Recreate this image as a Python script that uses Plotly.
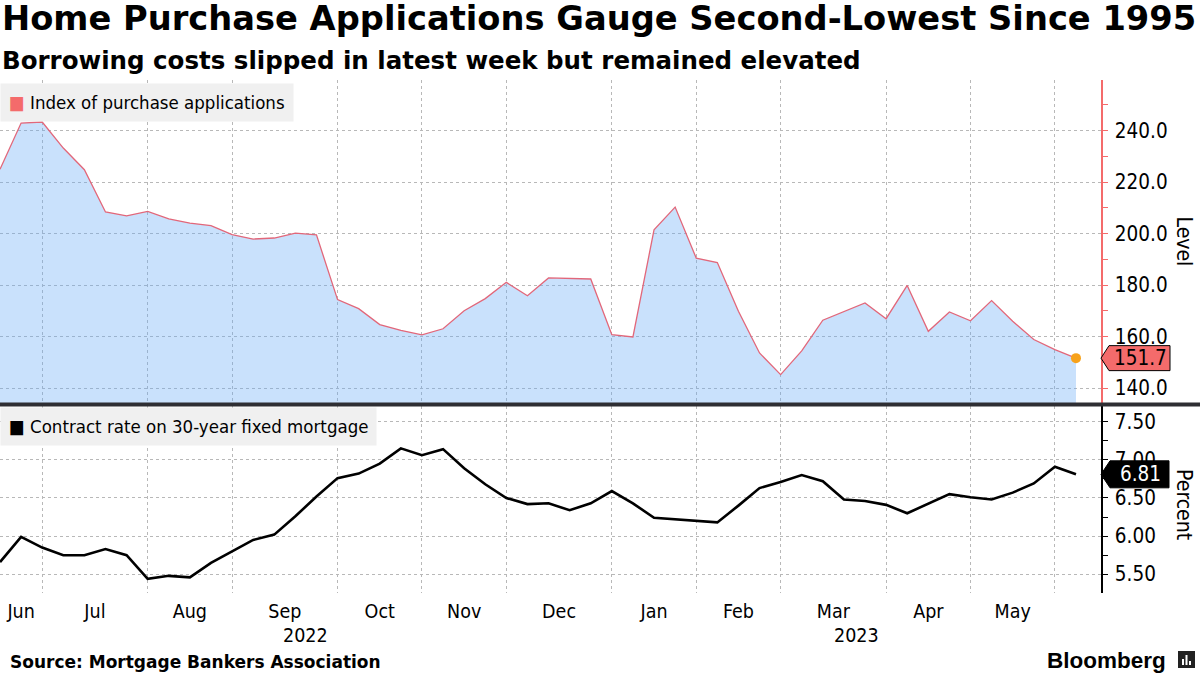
import pandas as pd
import plotly.graph_objects as go

# ---------------- data ----------------
dates = pd.date_range("2022-06-10", periods=52, freq="7D")

purchase_index = [225.0, 242.9, 243.3, 233.2, 224.8, 208.4, 206.9, 208.6, 205.7, 204.1,
                  203.1, 199.6, 197.9, 198.3, 200.2, 199.5, 174.4, 170.9, 164.7, 162.5,
                  160.7, 163.1, 170.1, 174.8, 181.1, 175.9, 182.8, 182.5, 182.4, 160.8,
                  159.9, 201.5, 210.3, 190.5, 188.8, 169.9, 153.7, 145.3, 154.5, 166.4,
                  169.7, 173.1, 167.0, 179.9, 162.1, 169.6, 166.2, 174.0, 166.0, 158.9,
                  155.0, 151.7]

mortgage_rate = [5.66, 5.99, 5.85, 5.75, 5.75, 5.83, 5.75, 5.44, 5.48, 5.46,
                 5.65, 5.80, 5.95, 6.02, 6.26, 6.52, 6.76, 6.82, 6.95, 7.15,
                 7.06, 7.14, 6.89, 6.68, 6.50, 6.42, 6.43, 6.34, 6.43, 6.59,
                 6.43, 6.24, 6.22, 6.20, 6.18, 6.40, 6.63, 6.71, 6.80, 6.72,
                 6.48, 6.46, 6.41, 6.30, 6.43, 6.55, 6.51, 6.48, 6.57, 6.69,
                 6.91, 6.81]

month_labels = ["Jun", "Jul", "Aug", "Sep", "Oct", "Nov", "Dec",
                "Jan", "Feb", "Mar", "Apr", "May"]
year_labels = ["2022", "2023"]

# ---------------- derived axis positions ----------------
x_end = dates[-1] + pd.Timedelta(hours=8.3 * 24)
grid_dates = [d for k, d in enumerate(dates[:-1]) if dates[k + 1].month != d.month]
bounds = [dates[0]] + grid_dates
mid_dates = [bounds[k] + (bounds[k + 1] - bounds[k]) / 2 for k in range(len(bounds) - 1)]
year_split = [d for d in grid_dates if d.month == 12][0]
year_mids = [dates[0] + (year_split - dates[0]) / 2, year_split + (x_end - year_split) / 2]

FONT = "DejaVu Sans Condensed, DejaVu Sans, sans-serif"
FONT_WIDE = "DejaVu Sans, sans-serif"
RED_LINE = "#e2677a"
RED_BOX = "#f46b6b"
GRID = "#b8b8b8"

fig = go.Figure()
fig.add_trace(go.Scatter(
    x=dates, y=purchase_index, mode="lines", xaxis="x", yaxis="y",
    line=dict(color=RED_LINE, width=1.3), fill="tozeroy",
    fillcolor="rgba(100,170,245,0.35)", showlegend=False, hoverinfo="skip"))
fig.add_trace(go.Scatter(
    x=[dates[-1]], y=[purchase_index[-1]], mode="markers", xaxis="x", yaxis="y",
    marker=dict(color="#f7a21b", size=10), showlegend=False, hoverinfo="skip"))
fig.add_trace(go.Scatter(
    x=dates, y=mortgage_rate, mode="lines", xaxis="x2", yaxis="y2",
    line=dict(color="#000000", width=2.6), showlegend=False, hoverinfo="skip"))

minor_x = dict(tickmode="array", tickvals=grid_dates, showgrid=True,
               gridcolor=GRID, griddash="dot", gridwidth=1, ticks="")

fig.update_layout(
    width=1200, height=675,
    margin=dict(l=0, r=99, t=80, b=82),
    paper_bgcolor="white", plot_bgcolor="white",
    font=dict(family=FONT, size=19, color="#000"),
    xaxis=dict(domain=[0, 1], anchor="y", range=[dates[0], x_end], type="date",
               showticklabels=False, showgrid=False, ticks="", minor=minor_x,
               zeroline=False, showline=False),
    xaxis2=dict(domain=[0, 1], anchor="y2", matches="x", type="date",
                tickmode="array", tickvals=mid_dates, ticktext=month_labels,
                showgrid=False, ticks="", minor=minor_x, zeroline=False, showline=False,
                tickfont=dict(size=19.5, family=FONT), ticklabelstandoff=4),
    yaxis=dict(domain=[0.3704, 1], anchor="x", side="right", range=[134.3, 259.6],
               dtick=20, tick0=0, tickformat=".1f", showline=True, linecolor=RED_BOX,
               linewidth=1.5, ticks="outside", ticklen=5, tickcolor=RED_BOX,
               showgrid=True, gridcolor=GRID, griddash="dot", zeroline=False,
               tickfont=dict(size=20.5, family=FONT), ticklabelstandoff=3,
               minor=dict(dtick=10, tick0=0, ticks="outside", ticklen=5,
                          tickcolor=RED_BOX, showgrid=False)),
    yaxis2=dict(domain=[0, 0.3645], anchor="x2", side="right", range=[5.255, 7.705],
                dtick=0.5, tick0=0, tickformat=".2f", showline=True, linecolor="#000",
                linewidth=1.5, ticks="outside", ticklen=5, tickcolor="#000",
                showgrid=True, gridcolor=GRID, griddash="dot", zeroline=False,
                tickfont=dict(size=20.5, family=FONT), ticklabelstandoff=3,
                minor=dict(dtick=0.25, tick0=0, ticks="outside", ticklen=5,
                           tickcolor="#000", showgrid=False)),
)

shapes = [
    # panel separator bar
    dict(type="line", xref="paper", yref="paper", x0=0, x1=1200 / 1101,
         y0=0.3675, y1=0.3675, line=dict(color="#2e2e33", width=4)),
    # last-value tag: purchase index
    dict(type="path", xref="paper", yref="y", xsizemode="pixel", ysizemode="pixel",
         xanchor=1, yanchor=purchase_index[-1],
         path="M0,0 L8,12.5 L69,12.5 L69,-12.5 L8,-12.5 Z",
         fillcolor=RED_BOX, line=dict(color="#000", width=1)),
    # last-value tag: mortgage rate
    dict(type="path", xref="paper", yref="y2", xsizemode="pixel", ysizemode="pixel",
         xanchor=1, yanchor=mortgage_rate[-1],
         path="M0,0 L9,13.5 L68,13.5 L68,-13.5 L9,-13.5 Z",
         fillcolor="#000", line=dict(color="#000", width=1)),
    # bloomberg icon
    dict(type="rect", xref="paper", yref="paper", x0=1178 / 1101, x1=1195 / 1101,
         y0=-(668 - 593) / 513, y1=-(651 - 593) / 513, fillcolor="#222",
         line=dict(width=0)),
]
for bx, btop in [(1182, 659), (1185.5, 655), (1189, 661)]:
    shapes.append(dict(type="rect", xref="paper", yref="paper",
                       x0=bx / 1101, x1=(bx + 2) / 1101,
                       y0=-(665 - 593) / 513, y1=-(btop - 593) / 513,
                       fillcolor="#fff", line=dict(width=0)))

annotations = [
    dict(text="<b>Home Purchase Applications Gauge Second-Lowest Since 1995</b>",
         xref="paper", yref="paper", x=0, y=1 + (80 - 19) / 513, xanchor="left",
         yanchor="middle", showarrow=False, font=dict(size=33.7, family=FONT_WIDE)),
    dict(text="<b>Borrowing costs slipped in latest week but remained elevated</b>",
         xref="paper", yref="paper", x=0, y=1 + (80 - 60) / 513, xanchor="left",
         yanchor="middle", showarrow=False, font=dict(size=24.5, family=FONT_WIDE)),
    dict(text=f"<span style='color:{RED_BOX}'>■</span> Index of purchase applications",
         xref="paper", yref="paper", x=0, y=1 - 3 / 513, xanchor="left", yanchor="top",
         showarrow=False, bgcolor="#f0f0f0", borderpad=8,
         font=dict(size=18.5, family=FONT)),
    dict(text="<span style='color:#000'>■</span> Contract rate on 30-year fixed mortgage",
         xref="paper", yref="paper", x=0, y=0.3645 - 1 / 513, xanchor="left",
         yanchor="top", showarrow=False, bgcolor="#f0f0f0", borderpad=8,
         font=dict(size=18.5, family=FONT)),
    dict(text=f"{purchase_index[-1]:.1f}", xref="paper", yref="y", x=1, xshift=39,
         y=purchase_index[-1], xanchor="center", yanchor="middle", showarrow=False,
         font=dict(size=20.5, family=FONT, color="#000")),
    dict(text=f"{mortgage_rate[-1]:.2f}", xref="paper", yref="y2", x=1, xshift=39,
         y=mortgage_rate[-1], xanchor="center", yanchor="middle", showarrow=False,
         font=dict(size=20.5, family=FONT, color="#fff")),
    dict(text="Level", xref="paper", yref="y domain", x=1184 / 1101, y=0.5,
         textangle=90, xanchor="center", yanchor="middle", showarrow=False,
         font=dict(size=21, family=FONT)),
    dict(text="Percent", xref="paper", yref="y2 domain", x=1184 / 1101, y=0.47,
         textangle=90, xanchor="center", yanchor="middle", showarrow=False,
         font=dict(size=21, family=FONT)),
    dict(text="<b>Source: Mortgage Bankers Association</b>", xref="paper", yref="paper",
         x=8 / 1101, y=-(662 - 593) / 513, xanchor="left", yanchor="middle",
         showarrow=False, font=dict(size=17, family=FONT_WIDE)),
    dict(text="<b>Bloomberg</b>", xref="paper", yref="paper", x=1168 / 1101,
         y=-(660 - 593) / 513, xanchor="right", yanchor="middle", showarrow=False,
         font=dict(size=22.5, family="Liberation Sans, Arial, sans-serif")),
]
for d, lab in zip(year_mids, year_labels):
    annotations.append(dict(text=lab, xref="x2", yref="paper", x=d, y=-(635 - 593) / 513,
                            xanchor="center", yanchor="middle", showarrow=False,
                            font=dict(size=19.5, family=FONT)))

fig.update_layout(shapes=shapes, annotations=annotations)
fig.write_html("out.html", config={"displayModeBar": False},
               post_script="document.body.style.margin='0';")
